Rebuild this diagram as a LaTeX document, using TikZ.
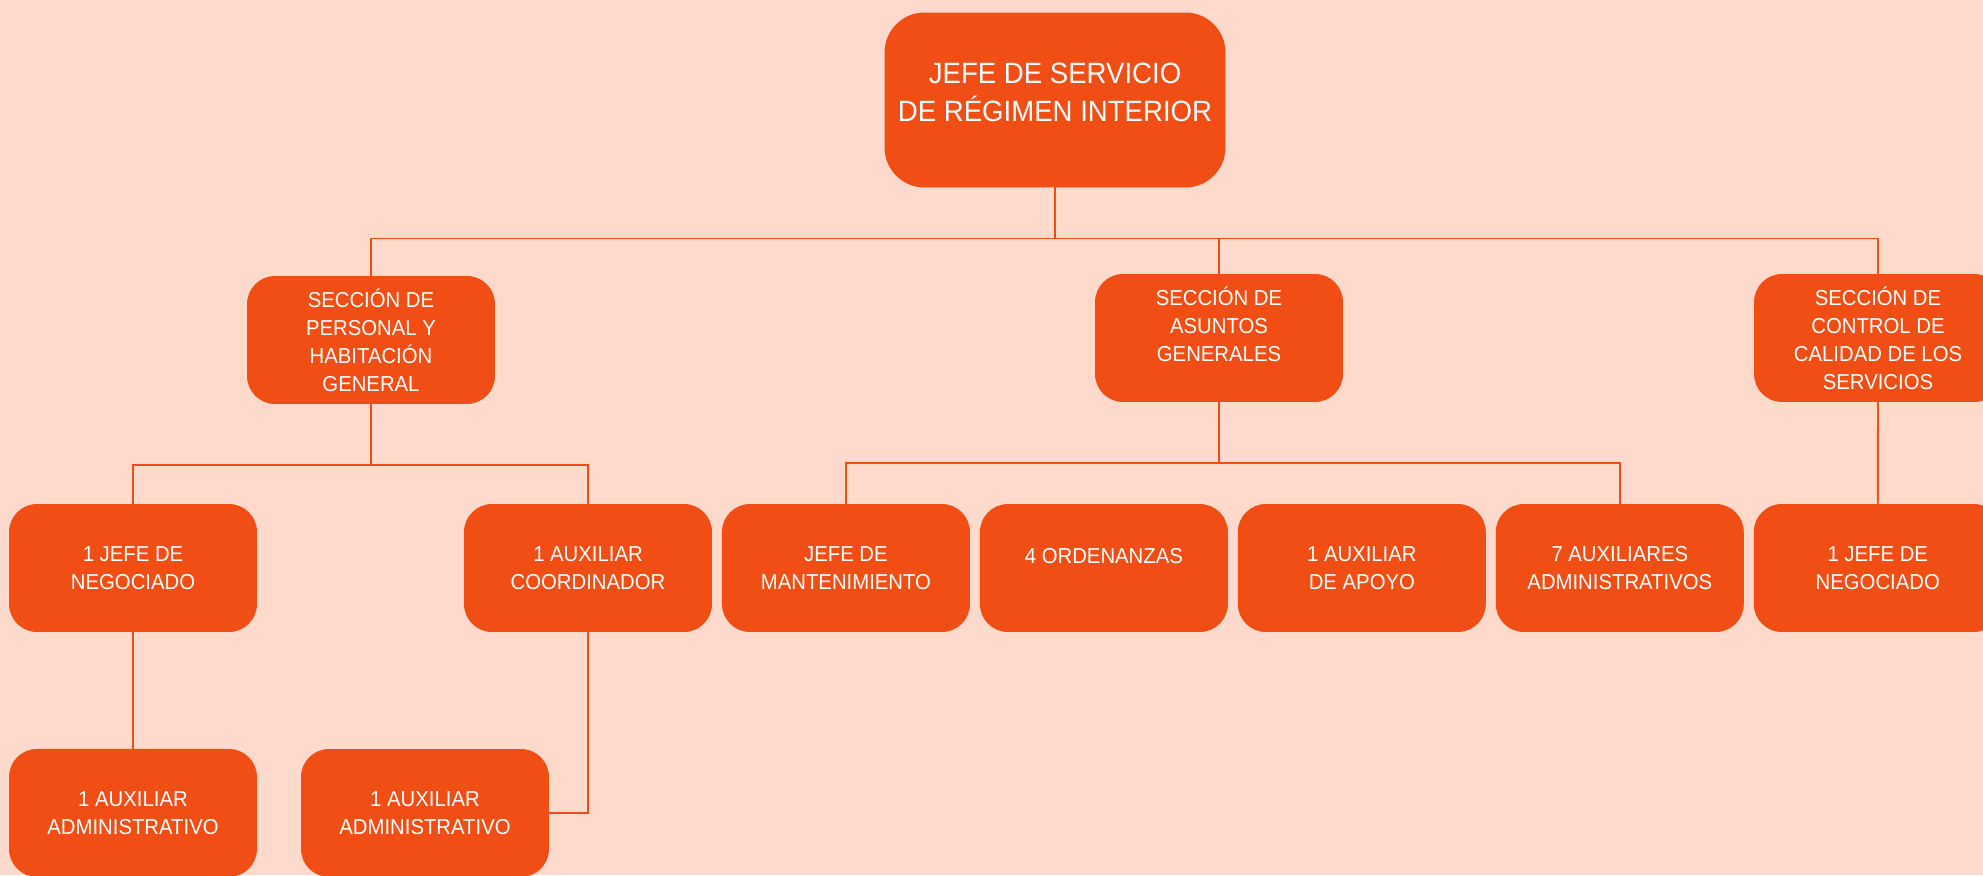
\documentclass[tikz,border=0pt]{standalone}
\usepackage{fontspec}
\setmainfont[FakeStretch=0.94]{Liberation Sans}
\usetikzlibrary{positioning}
\definecolor{fondo}{RGB}{253,218,203}
\definecolor{naranja}{RGB}{240,78,20}

\begin{document}
\begin{tikzpicture}[x=0.02cm, y=-0.02cm,
	caja/.style={fill=\BoxColor, rounded corners=0.56cm, text=white, align=center,
		minimum width=4.96cm, minimum height=2.56cm, inner sep=0pt, outer sep=0pt,
		font=\fontsize{12.3}{15.9}\selectfont},
	jefe/.style={caja, rounded corners=0.8cm, minimum width=6.82cm, minimum height=3.5cm,
		font=\fontsize{16.7}{21.4}\selectfont},
	linea/.style={draw=\LineColor, line width=1.1pt}]
	\def\BoxColor{naranja}
	\def\LineColor{naranja}
	\def\Hueco{0.2cm}
	%%%%%%%%%%%%%%%%%%%%%%%%%%%%%%%%%%%%%%%%%%%%%%%%%%%%%%%%%%
	\fill[fondo] (0,0) rectangle (1983,875);
	\useasboundingbox (0,0) rectangle (1983,875);
	%%%%%%%%%%%%%%%%%%%%%%%%%%%%%%%%%%%%%%%%%%%%%%%%%%%%%%%%%%
	% head
	\node[jefe] (servicio) at (1055,100) {JEFE DE SERVICIO\\DE RÉGIMEN INTERIOR\\[-19pt]\strut};
	
	% sections
	\node[caja] (personal) at (371,340) {SECCIÓN DE\\PERSONAL Y\\HABITACIÓN\\GENERAL};
	\node[caja] (asuntos) at (1219,338) {SECCIÓN DE\\ASUNTOS\\GENERALES\\[-5pt]\strut};
	\node[caja] (control) at (1878,338) {SECCIÓN DE\\CONTROL DE\\CALIDAD DE LOS\\SERVICIOS};
	
	% third row
	\node[caja] (negociadoA) at (133,568) {1 JEFE DE\\NEGOCIADO};
	\node[caja] (coordinador) at (588,568) {1 AUXILIAR\\COORDINADOR};
	\node[caja, right=\Hueco of coordinador] (mantenimiento) {JEFE DE\\MANTENIMIENTO};
	\node[caja, right=\Hueco of mantenimiento] (ordenanzas) {4 ORDENANZAS\\[-7pt]\strut};
	\node[caja, right=\Hueco of ordenanzas] (apoyo) {1 AUXILIAR\\DE APOYO};
	\node[caja, right=\Hueco of apoyo] (auxiliares) {7 AUXILIARES\\ADMINISTRATIVOS};
	\node[caja, right=\Hueco of auxiliares] (negociadoB) {1 JEFE DE\\NEGOCIADO};
	
	% fourth row
	\node[caja, below=2.34cm of negociadoA] (adminA) {1 AUXILIAR\\ADMINISTRATIVO};
	\node[caja] (adminB) at (425,813) {1 AUXILIAR\\ADMINISTRATIVO};
	
	% head to sections
	\draw[linea] (servicio.south) -- ++(0,51) -| (personal.north);
	\draw[linea] (servicio.south) -- ++(0,51) -| (asuntos.north);
	\draw[linea] (servicio.south) -- ++(0,51) -| (control.north);
	
	% personal
	\draw[linea] (personal.south) -- ++(0,61) -| (negociadoA.north);
	\draw[linea] (personal.south) -- ++(0,61) -| (coordinador.north);
	\draw[linea] (negociadoA.south) -- (adminA.north);
	\draw[linea] (coordinador.south) |- (adminB.east);
	
	% asuntos generales
	\draw[linea] (asuntos.south) -- ++(0,61) -| (mantenimiento.north);
	\draw[linea] (asuntos.south) -- ++(0,61) -| (auxiliares.north);
	
	% control de calidad
	\draw[linea] (control.south) -- (negociadoB.north);
	
\end{tikzpicture}
\end{document}
